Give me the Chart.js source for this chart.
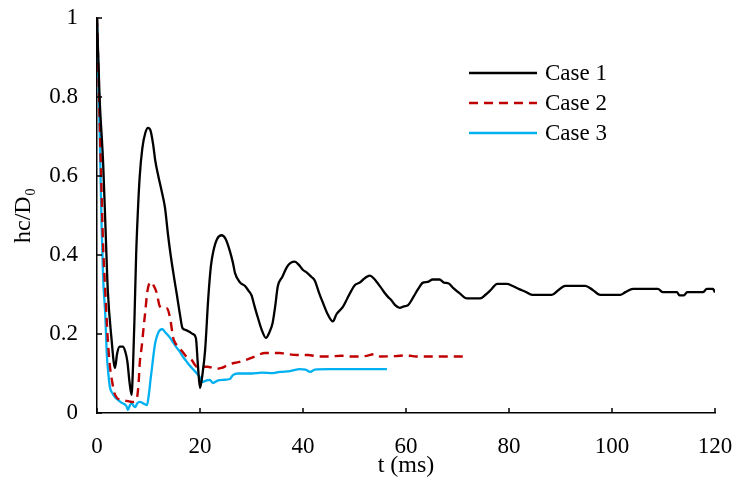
<!DOCTYPE html>
<html><head><meta charset="utf-8">
<script src="https://cdn.jsdelivr.net/npm/chart.js@4/dist/chart.umd.min.js"></script>
<style>html,body{margin:0;padding:0;background:#fff}#wrap{width:736px;height:481px}</style>
</head><body><div id="wrap"><canvas id="c" width="736" height="481"></canvas></div>
<script>
const seriesNames = ['Case 1', 'Case 2', 'Case 3'];
const xTickValues = [0, 20, 40, 60, 80, 100, 120];
const yTickValues = [0, 0.2, 0.4, 0.6, 0.8, 1];
const xTitle = 't (ms)';
const yTitle = 'hc/D\u2080';

const case1T = [0,0.5,1.2,1.7,2.1,2.8,3.5,3.9,4.4,5.0,5.5,5.9,6.3,6.7,7.0,7.3,7.6,7.9,8.3,8.8,9.4,9.9,10.4,10.9,11.3,11.9,12.5,13.2,13.8,14.3,15.0,15.5,16.1,16.6,17.3,18.0,18.6,19.2,19.6,20.0,20.5,21.0,21.6,22.1,22.6,23.3,24.2,25.0,25.8,26.4,26.8,27.8,28.7,29.4,30.0,30.6,31.2,32.0,32.8,33.5,34.1,34.6,35.1,36.0,36.9,37.6,38.4,39.2,40.0,40.8,41.6,42.3,43.1,43.9,44.8,45.8,46.5,47.3,47.8,48.6,49.4,50.1,51.0,51.7,52.4,53.0,53.8,55.0,55.8,56.5,57.2,57.9,58.8,59.6,60.4,61.5,62.4,63.3,64.2,65.2,66.5,67.4,68.3,69.2,70.5,71.8,74.4,75.5,76.5,77.7,79.6,80.6,82.1,83.2,84.5,88.3,89.5,90.9,94.8,96.2,97.7,101.6,102.6,104.1,108.9,109.9,112.6,113.1,114.0,114.6,117.7,118.4,119.6,120];
const case1H = [1,0.8,0.63,0.45,0.31,0.19,0.114,0.15,0.168,0.168,0.155,0.13,0.08,0.046,0.12,0.25,0.4,0.5,0.6,0.67,0.71,0.722,0.715,0.68,0.64,0.6,0.565,0.52,0.45,0.4,0.34,0.3,0.25,0.215,0.21,0.205,0.2,0.19,0.12,0.063,0.1,0.16,0.29,0.37,0.41,0.44,0.45,0.44,0.41,0.38,0.354,0.33,0.322,0.31,0.298,0.27,0.243,0.21,0.19,0.205,0.228,0.27,0.32,0.345,0.37,0.38,0.383,0.375,0.362,0.355,0.345,0.335,0.305,0.278,0.25,0.232,0.25,0.262,0.27,0.29,0.31,0.324,0.33,0.338,0.345,0.348,0.34,0.32,0.305,0.294,0.285,0.273,0.266,0.27,0.273,0.295,0.315,0.33,0.332,0.338,0.338,0.33,0.328,0.316,0.302,0.29,0.29,0.3,0.312,0.327,0.327,0.322,0.313,0.307,0.299,0.299,0.31,0.322,0.322,0.312,0.299,0.299,0.306,0.314,0.314,0.306,0.306,0.298,0.298,0.306,0.306,0.314,0.314,0.305];

const case2T = [0,0.4,0.8,1.2,1.6,2.1,2.5,2.9,3.4,3.9,5.0,6.0,6.8,7.5,7.8,8.1,8.3,8.7,9.0,9.4,9.7,10.0,10.4,10.9,11.6,12.2,13.0,13.6,14.2,14.8,15.3,15.8,16.6,17.4,18.4,19.0,19.4,21.4,23.3,24.2,25.2,26.4,27.2,28.3,29.7,31.0,32.6,35.5,36.5,38.8,41,43,45,47.5,49,52,54,55,58,60,62,65,68,72];
const case2H = [1,0.8,0.6,0.42,0.31,0.185,0.12,0.083,0.05,0.038,0.033,0.03,0.028,0.032,0.04,0.08,0.126,0.17,0.21,0.26,0.3,0.322,0.332,0.325,0.304,0.27,0.266,0.265,0.24,0.19,0.175,0.167,0.155,0.142,0.134,0.122,0.117,0.117,0.112,0.114,0.12,0.126,0.128,0.132,0.138,0.145,0.152,0.152,0.15,0.147,0.147,0.143,0.143,0.145,0.143,0.144,0.149,0.143,0.144,0.146,0.143,0.143,0.143,0.143];

const case3T = [0,0.3,0.6,0.9,1.2,1.6,1.9,2.2,2.5,3.0,3.5,4.2,4.9,5.4,5.8,6.0,6.4,6.8,7.1,7.4,7.8,8.3,8.9,9.3,9.7,10.1,10.4,10.7,11.0,11.3,11.8,12.2,12.7,13.2,13.7,14.2,14.8,15.5,16.1,16.7,17.3,18.0,18.7,19.4,20.0,20.4,21.2,21.9,22.5,23.4,24.5,25.8,26.4,27.4,30,32,34.2,35.5,37.5,39.4,40.5,41.4,42.3,45,48,52,56.3];
const case3H = [1,0.85,0.66,0.47,0.34,0.25,0.15,0.1,0.066,0.05,0.04,0.032,0.025,0.022,0.015,0.008,0.02,0.025,0.018,0.015,0.024,0.028,0.025,0.022,0.02,0.05,0.085,0.117,0.15,0.177,0.2,0.21,0.212,0.205,0.198,0.19,0.178,0.165,0.155,0.142,0.132,0.12,0.11,0.1,0.09,0.078,0.082,0.084,0.076,0.082,0.084,0.086,0.096,0.1,0.1,0.102,0.101,0.104,0.106,0.111,0.11,0.104,0.11,0.111,0.111,0.111,0.111];

const toPts = (t, h) => t.map((v, i) => ({x: v, y: h[i]}));
const FONT = '"Liberation Serif", "Times New Roman", serif';

const innerTicks = {
  id: 'innerTicks',
  afterDraw(chart) {
    const {ctx, chartArea, scales} = chart;
    ctx.save();
    ctx.strokeStyle = '#000';
    ctx.lineWidth = 1.5;
    ctx.beginPath();
    xTickValues.forEach(v => {
      const p = scales.x.getPixelForValue(v);
      ctx.moveTo(p, chartArea.bottom); ctx.lineTo(p, chartArea.bottom - 5);
    });
    yTickValues.forEach(v => {
      const p = scales.y.getPixelForValue(v);
      ctx.moveTo(chartArea.left, p); ctx.lineTo(chartArea.left + 5, p);
    });
    ctx.stroke();
    ctx.restore();
  }
};

const customLegend = {
  id: 'customLegend',
  afterDraw(chart) {
    const {ctx} = chart;
    ctx.save();
    ctx.font = '23px ' + FONT;
    ctx.textBaseline = 'middle';
    ctx.fillStyle = '#000';
    chart.data.datasets.forEach((ds, i) => {
      const y = 73 + i * 30;
      ctx.beginPath();
      ctx.strokeStyle = ds.borderColor;
      ctx.lineWidth = ds.borderWidth;
      ctx.setLineDash(ds.borderDash || []);
      ctx.moveTo(469, y); ctx.lineTo(537, y);
      ctx.stroke();
      ctx.setLineDash([]);
      ctx.fillText(ds.label, 545, y + 1);
    });
    ctx.restore();
  }
};

new Chart(document.getElementById('c'), {
  type: 'line',
  data: {
    datasets: [
      {label: seriesNames[0], data: toPts(case1T, case1H), borderColor: '#000000', borderWidth: 2.3, pointRadius: 0, cubicInterpolationMode: 'monotone'},
      {label: seriesNames[1], data: toPts(case2T, case2H), borderColor: '#c00000', borderWidth: 2.4, borderDash: [9, 6], pointRadius: 0, cubicInterpolationMode: 'monotone'},
      {label: seriesNames[2], data: toPts(case3T, case3H), borderColor: '#00b0f0', borderWidth: 2.3, pointRadius: 0, cubicInterpolationMode: 'monotone'}
    ]
  },
  options: {
    responsive: false,
    animation: false,
    devicePixelRatio: 1,
    layout: {padding: {left: 0, right: 21, top: 18, bottom: 0}},
    plugins: {legend: {display: false}, tooltip: {enabled: false}},
    scales: {
      x: {
        type: 'linear', min: 0, max: 120,
        afterFit: s => { s.height = 68; s.paddingLeft = 0; s.paddingRight = 0; },
        afterBuildTicks: s => { s.ticks = xTickValues.map(v => ({value: v})); },
        grid: {display: false, drawTicks: false},
        border: {display: true, color: '#000', width: 1.5},
        ticks: {padding: 20, color: '#000', font: {family: FONT, size: 23}, maxRotation: 0, callback: v => String(v)},
        title: {display: true, text: xTitle, color: '#000', font: {family: FONT, size: 24, lineHeight: 1.2}, padding: {top: 0, bottom: 1}}
      },
      y: {
        type: 'linear', min: 0, max: 1,
        afterFit: s => { s.width = 97; s.paddingTop = 0; s.paddingBottom = 0; },
        afterBuildTicks: s => { s.ticks = yTickValues.map(v => ({value: v})); },
        grid: {display: false, drawTicks: false},
        border: {display: true, color: '#000', width: 1.5},
        ticks: {padding: 19, color: '#000', font: {family: FONT, size: 23}, callback: v => String(Math.round(v * 10) / 10)},
        title: {display: true, text: yTitle, color: '#000', font: {family: FONT, size: 24, lineHeight: 1.2}, padding: {top: 9, bottom: 0}}
      }
    }
  },
  plugins: [innerTicks, customLegend]
});
</script>
</body></html>
